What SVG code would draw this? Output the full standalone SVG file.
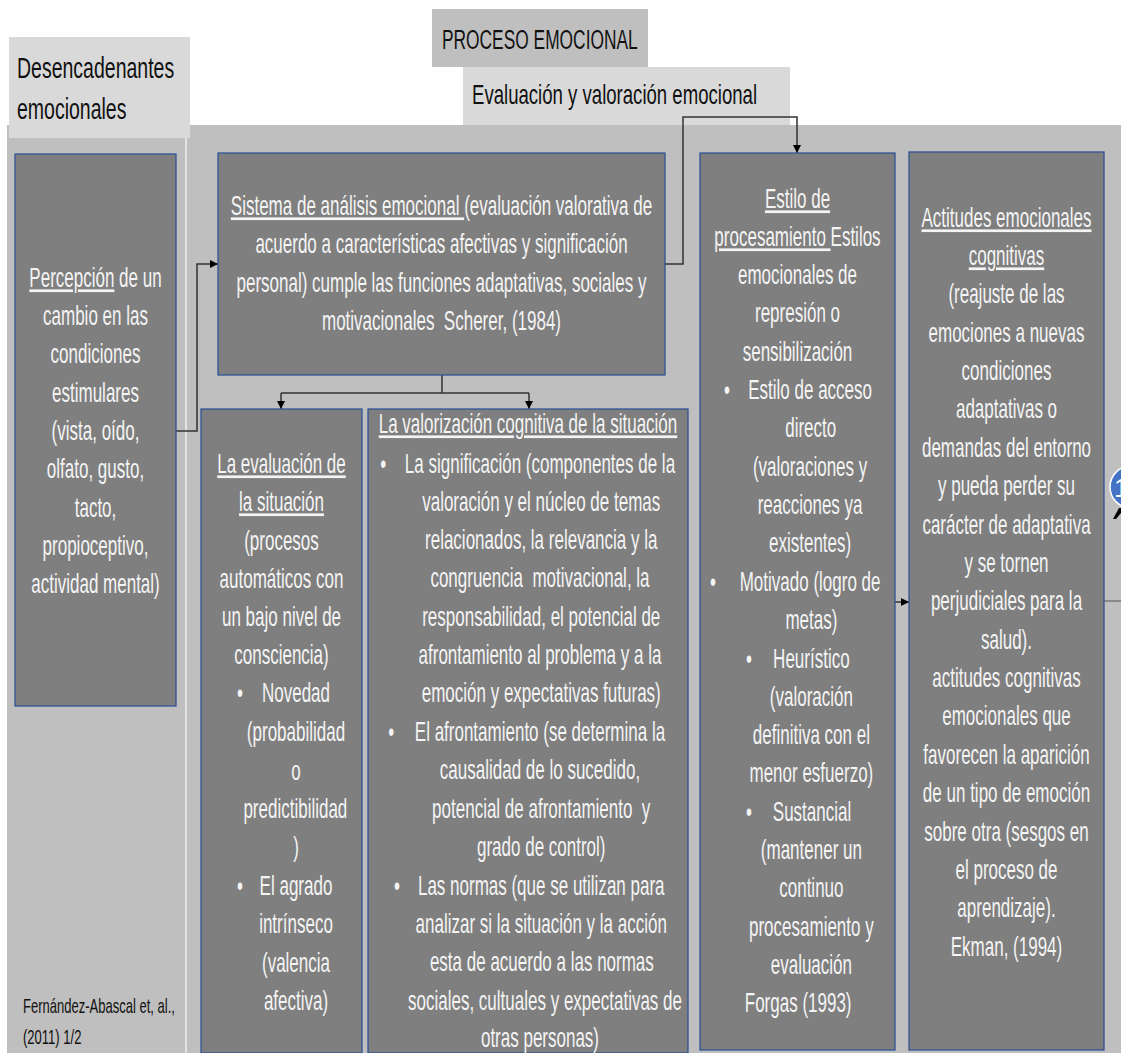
<svg xmlns="http://www.w3.org/2000/svg" width="1121" height="1053" viewBox="0 0 1121 1053">
<defs>
<style>
.bg{fill:#bfbfbf}
.hdrL{fill:#d9d9d9}
.hdrD{fill:#bfbfbf}
.box{fill:#7f7f7f;stroke:#2f5597;stroke-width:1.3}
.t{font-family:"Liberation Sans",Arial,sans-serif;font-size:27px;fill:#f4f4f4;text-anchor:middle}
.h{font-family:"Liberation Sans",Arial,sans-serif;fill:#111;text-anchor:start}
.u{text-decoration:underline}
.c{fill:none;stroke:#333;stroke-width:1.5}
</style>
<marker id="ah" markerWidth="10" markerHeight="10" refX="8" refY="4" orient="auto" markerUnits="userSpaceOnUse"><path d="M0,0 L8,4 L0,8 z" fill="#000"/></marker>
</defs>
<rect width="1121" height="1053" fill="#fff"/>
<rect class="bg" x="7" y="125" width="1114" height="928"/>
<rect x="185" y="125" width="2" height="928" fill="#e2e2e2"/>
<g id="desencadenantes">
<rect class="hdrL" x="9" y="37" width="181" height="101"/>
<g transform="translate(17,0) scale(0.65,1)"><text class="h" font-size="30" x="0" y="78">Desencadenantes</text><text class="h" font-size="30" x="0" y="119">emocionales</text></g>
</g>
<g id="proceso-emocional">
<rect class="hdrD" x="432" y="9" width="216" height="58"/>
<g transform="translate(442,0) scale(0.62,1)"><text class="h" font-size="28" x="0" y="49">PROCESO EMOCIONAL</text></g>
</g>
<g id="evaluacion-valoracion">
<rect class="hdrL" x="463" y="67" width="327" height="58"/>
<g transform="translate(472,0) scale(0.664,1)"><text class="h" font-size="28" x="0" y="104">Evaluación y valoración emocional</text></g>
</g>
<g id="connectors">
<path class="c" d="M176,431 H197 V264 H218" marker-end="url(#ah)"/>
<path class="c" d="M442,375 V393"/>
<path class="c" d="M281,393 H529"/>
<path class="c" d="M281,393 V409" marker-end="url(#ah)"/>
<path class="c" d="M529,393 V409" marker-end="url(#ah)"/>
<path class="c" d="M665,264 H683 V117 H797 V153" marker-end="url(#ah)"/>
<path class="c" d="M895,602 H909" marker-end="url(#ah)"/>
<path d="M1104,601 H1121" stroke="#777" stroke-width="1.5"/>
</g>
<g id="percepcion">
<rect class="box" x="15" y="154" width="161" height="552"/>
<g transform="translate(95.5,0) scale(0.63,1)">
<text class="t" x="0" y="287"><tspan class="u">Percepción</tspan> de un</text>
<text class="t" x="0" y="325">cambio en las</text>
<text class="t" x="0" y="363">condiciones</text>
<text class="t" x="0" y="402">estimulares</text>
<text class="t" x="0" y="440">(vista, oído,</text>
<text class="t" x="0" y="478">olfato, gusto,</text>
<text class="t" x="0" y="517">tacto,</text>
<text class="t" x="0" y="555">propioceptivo,</text>
<text class="t" x="0" y="593">actividad mental)</text>
</g>
</g>
<g id="sistema-analisis">
<rect class="box" x="218" y="153" width="447" height="222"/>
<g transform="translate(441.5,0) scale(0.63,1)">
<text class="t" x="0" y="215"><tspan class="u">Sistema de análisis emocional </tspan>(evaluación valorativa de</text>
<text class="t" x="0" y="253">acuerdo a características afectivas y significación</text>
<text class="t" x="0" y="292">personal) cumple las funciones adaptativas, sociales y</text>
<text class="t" x="0" y="330" xml:space="preserve">motivacionales  Scherer, (1984)</text>
</g>
</g>
<g id="evaluacion-situacion">
<rect class="box" x="201" y="409" width="161" height="644"/>
<g transform="translate(281.5,0) scale(0.63,1)">
<text class="t" x="0" y="473"><tspan class="u">La evaluación de</tspan></text>
<text class="t" x="0" y="511"><tspan class="u">la situación</tspan></text>
<text class="t" x="0" y="550">(procesos</text>
<text class="t" x="0" y="588">automáticos con</text>
<text class="t" x="0" y="626">un bajo nivel de</text>
<text class="t" x="0" y="664">consciencia)</text>
<text class="t" x="-66" y="702">•</text><text class="t" x="23" y="702">Novedad</text>
<text class="t" x="23" y="741">(probabilidad</text>
<text class="t" x="23" y="780">o</text>
<text class="t" x="22" y="818">predictibilidad</text>
<text class="t" x="23" y="856">)</text>
<text class="t" x="-66" y="895">•</text><text class="t" x="23" y="895">El agrado</text>
<text class="t" x="23" y="933">intrínseco</text>
<text class="t" x="23" y="972">(valencia</text>
<text class="t" x="23" y="1010">afectiva)</text>
</g>
</g>
<g id="valorizacion-cognitiva">
<rect class="box" x="368" y="409" width="320" height="644"/>
<g transform="translate(528,0) scale(0.63,1)">
<text class="t" x="0" y="433"><tspan class="u">La valorización cognitiva de la situación</tspan></text>
<text class="t" x="-230" y="473">•</text><text class="t" x="19" y="473">La significación (componentes de la</text>
<text class="t" x="21" y="511">valoración y el núcleo de temas</text>
<text class="t" x="21" y="549">relacionados, la relevancia y la</text>
<text class="t" x="19" y="587" xml:space="preserve">congruencia  motivacional, la</text>
<text class="t" x="21" y="626">responsabilidad, el potencial de</text>
<text class="t" x="19" y="664">afrontamiento al problema y a la</text>
<text class="t" x="21" y="702">emoción y expectativas futuras)</text>
<text class="t" x="-217" y="741">•</text><text class="t" x="19" y="741">El afrontamiento (se determina la</text>
<text class="t" x="19" y="779">causalidad de lo sucedido,</text>
<text class="t" x="21" y="818" xml:space="preserve">potencial de afrontamiento  y</text>
<text class="t" x="21" y="856">grado de control)</text>
<text class="t" x="-208" y="895">•</text><text class="t" x="21" y="895">Las normas (que se utilizan para</text>
<text class="t" x="21" y="933">analizar si la situación y la acción</text>
<text class="t" x="22" y="971">esta de acuerdo a las normas</text>
<text class="t" x="27" y="1010">sociales, cultuales y expectativas de</text>
<text class="t" x="19" y="1047">otras personas)</text>
</g>
</g>
<g id="estilo-procesamiento">
<rect class="box" x="700" y="153" width="195" height="897"/>
<g transform="translate(797.5,0) scale(0.63,1)">
<text class="t" x="0" y="208"><tspan class="u">Estilo de</tspan></text>
<text class="t" x="0" y="246"><tspan class="u">procesamiento </tspan>Estilos</text>
<text class="t" x="0" y="284">emocionales de</text>
<text class="t" x="0" y="322">represión o</text>
<text class="t" x="0" y="361">sensibilización</text>
<text class="t" x="-112" y="399">•</text><text class="t" x="20" y="399">Estilo de acceso</text>
<text class="t" x="21" y="437">directo</text>
<text class="t" x="20" y="476">(valoraciones y</text>
<text class="t" x="20" y="514">reacciones ya</text>
<text class="t" x="20" y="552">existentes)</text>
<text class="t" x="-134" y="591">•</text><text class="t" x="20" y="591">Motivado (logro de</text>
<text class="t" x="22" y="629">metas)</text>
<text class="t" x="-77" y="668">•</text><text class="t" x="22" y="668">Heurístico</text>
<text class="t" x="22" y="706">(valoración</text>
<text class="t" x="22" y="744">definitiva con el</text>
<text class="t" x="22" y="782">menor esfuerzo)</text>
<text class="t" x="-77" y="821">•</text><text class="t" x="23" y="821">Sustancial</text>
<text class="t" x="22" y="859">(mantener un</text>
<text class="t" x="22" y="897">continuo</text>
<text class="t" x="22" y="936">procesamiento y</text>
<text class="t" x="22" y="974">evaluación</text>
<text class="t" x="1" y="1012">Forgas (1993)</text>
</g>
</g>
<g id="actitudes-emocionales">
<rect class="box" x="909" y="152" width="195" height="898"/>
<g transform="translate(1006.5,0) scale(0.63,1)">
<text class="t" x="0" y="227"><tspan class="u">Actitudes emocionales</tspan></text>
<text class="t" x="0" y="265"><tspan class="u">cognitivas</tspan></text>
<text class="t" x="0" y="303">(reajuste de las</text>
<text class="t" x="0" y="342">emociones a nuevas</text>
<text class="t" x="0" y="380">condiciones</text>
<text class="t" x="0" y="418">adaptativas o</text>
<text class="t" x="0" y="457">demandas del entorno</text>
<text class="t" x="0" y="495">y pueda perder su</text>
<text class="t" x="0" y="534">carácter de adaptativa</text>
<text class="t" x="0" y="572">y se tornen</text>
<text class="t" x="0" y="610">perjudiciales para la</text>
<text class="t" x="0" y="649">salud).</text>
<text class="t" x="0" y="687">actitudes cognitivas</text>
<text class="t" x="0" y="725">emocionales que</text>
<text class="t" x="0" y="764">favorecen la aparición</text>
<text class="t" x="0" y="802">de un tipo de emoción</text>
<text class="t" x="0" y="841">sobre otra (sesgos en</text>
<text class="t" x="0" y="879">el proceso de</text>
<text class="t" x="0" y="917">aprendizaje).</text>
<text class="t" x="0" y="956">Ekman, (1994)</text>
</g>
</g>
<g id="badge">
<circle cx="1131" cy="487" r="21" fill="#4472c4" stroke="#ffffff" stroke-width="1.5"/>
<text x="1114" y="497" font-family="Liberation Sans,Arial,sans-serif" font-size="26" fill="#fff">1</text>
<path d="M1113,519 L1119,508 L1121,508 L1121,513 L1116,519 Z" fill="#000"/>
</g>
<g id="fuente">
<g transform="translate(23,0) scale(0.62,1)">
<text class="h" font-size="21" x="0" y="1013">Fernández-Abascal et, al.,</text>
<text class="h" font-size="21" x="0" y="1044">(2011) 1/2</text>
</g>
</g>
</svg>
